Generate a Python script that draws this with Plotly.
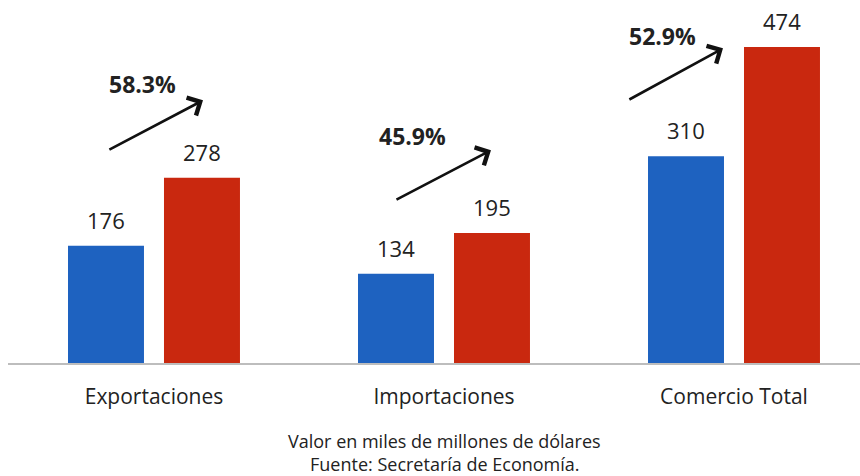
import plotly.graph_objects as go

# ---- data ----
categories = ["Exportaciones", "Importaciones", "Comercio Total"]
values_before = [176, 134, 310]   # blue
values_after = [278, 195, 474]    # red
growth_labels = ["58.3%", "45.9%", "52.9%"]
note_lines = ["Valor en miles de millones de dólares", "Fuente: Secretaría de Economía."]

# ---- style / layout ----
BLUE = "#1e62c0"
RED = "#c9280f"
TEXT = "#222222"
FONT = "Open Sans"
BAR_W = 0.262
HALF = 0.1655
xpos = list(range(len(categories)))

# plot area geometry (pixels)
ML, MT, MB, W, H = 8, 3, 113, 860, 476
PLOT_H = H - MT - MB
PLOT_W = W - ML

fig = go.Figure()
fig.add_trace(go.Bar(x=xpos, y=values_before, width=BAR_W, offset=-HALF - BAR_W / 2,
                     marker=dict(color=BLUE, line=dict(width=0)), hoverinfo="y"))
fig.add_trace(go.Bar(x=xpos, y=values_after, width=BAR_W, offset=HALF - BAR_W / 2,
                     marker=dict(color=RED, line=dict(width=0)), hoverinfo="y"))

annotations = []
# value labels above bars
for i in xpos:
    for v, dx in ((values_before[i], -HALF), (values_after[i], HALF)):
        annotations.append(dict(x=i + dx, y=v, xref="x", yref="y", text=str(v),
                                showarrow=False, yanchor="bottom", yshift=9,
                                font=dict(family=FONT, size=22, color=TEXT)))

# growth arrows (layout positions, relative to category index)
arrow_tail = [(-0.159, 319), (-0.169, 244), (-0.366, 394)]
arrow_head = [(0.169, 394), (0.162, 319), (-0.038, 472)]
label_pos = [(-0.041, 418), (-0.110, 340), (-0.245, 490)]
for i in xpos:
    tx, ty = arrow_tail[i]
    hx, hy = arrow_head[i]
    annotations.append(dict(x=i + hx, y=hy, ax=i + tx, ay=ty, xref="x", yref="y",
                            axref="x", ayref="y", text="", showarrow=True,
                            arrowhead=4, arrowsize=1.5, arrowwidth=2.6, arrowcolor="#111111"))
    lx, ly = label_pos[i]
    annotations.append(dict(x=i + lx, y=ly, xref="x", yref="y", text="<b>%s</b>" % growth_labels[i],
                            showarrow=False, font=dict(family=FONT, size=23, color=TEXT)))

# footnote (paper coords are relative to the plot area)
note_x_px = 444.5
note_y_px = [441, 464]
for k, line in enumerate(note_lines):
    annotations.append(dict(x=(note_x_px - ML) / PLOT_W, y=(H - MB - note_y_px[k]) / PLOT_H,
                            xref="paper", yref="paper",
                            text=line, showarrow=False, xanchor="center", yanchor="middle",
                            font=dict(family=FONT, size=18, color=TEXT)))

fig.update_layout(
    width=W, height=H,
    margin=dict(l=ML, r=0, t=MT, b=MB),
    paper_bgcolor="white", plot_bgcolor="white",
    barmode="overlay", showlegend=False,
    annotations=annotations,
    xaxis=dict(range=[-0.5034, 2.4345], tickvals=xpos, ticktext=categories,
               showgrid=False, zeroline=False, showline=True, linecolor="#bdbdbd", linewidth=1.5,
               ticks="", tickfont=dict(family=FONT, size=21, color=TEXT), ticklabelstandoff=14,
               fixedrange=True),
    yaxis=dict(range=[0, 540], visible=False, fixedrange=True),
    font=dict(family=FONT),
)

fig.write_html("out.html")
